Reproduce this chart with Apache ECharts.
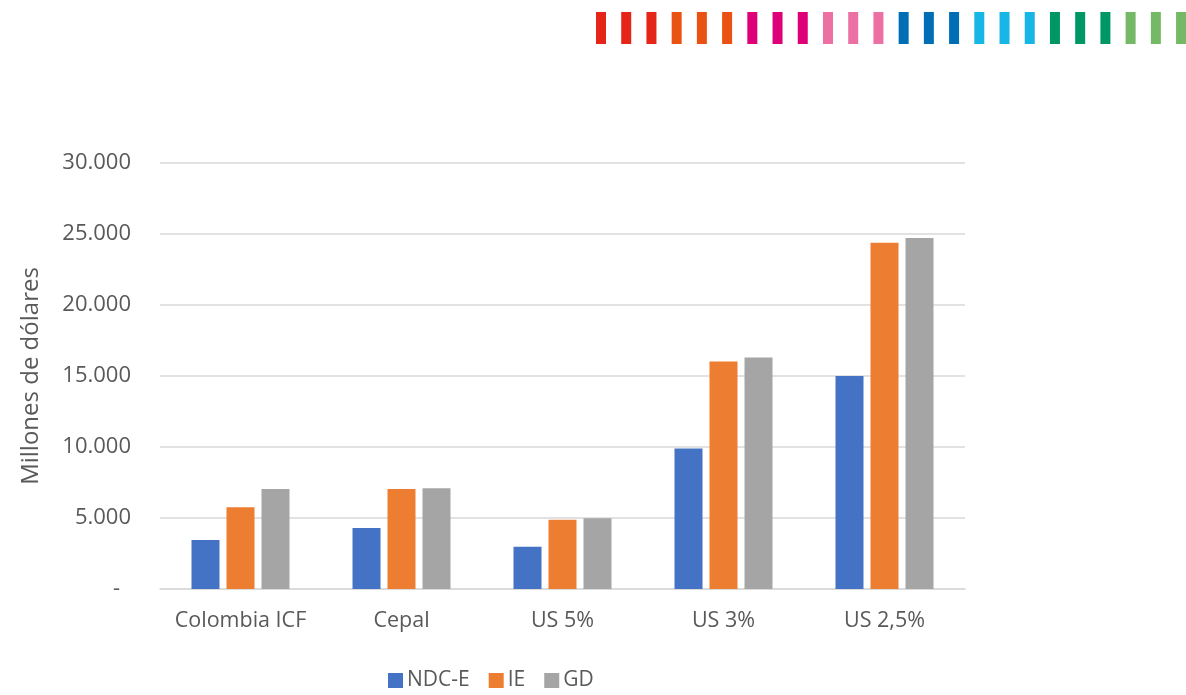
<!DOCTYPE html>
<html>
<head>
<meta charset="utf-8">
<script src="https://cdn.jsdelivr.net/npm/echarts@6/dist/echarts.min.js"></script>
<style>
  html, body { margin: 0; padding: 0; background: #ffffff; }
  #chart { width: 1186px; height: 695px; }
</style>
</head>
<body>
<div id="chart"></div>
<script>
// Scenario categories along the x axis
const categories = ['Colombia ICF', 'Cepal', 'US 5%', 'US 3%', 'US 2,5%'];

// Values in millions of dollars per series
const ndcE = [3450, 4300, 2980, 9900, 15000];
const ie   = [5750, 7050, 4880, 16020, 24380];
const gd   = [7050, 7100, 4980, 16300, 24720];

// Y axis ticks
const yMax = 30000;
const yStep = 5000;

// Decorative stripe band colours (three stripes per colour)
const stripeColors = [
  '#E42518', '#E42518', '#E42518',
  '#EA5213', '#EA5213', '#EA5213',
  '#DD0079', '#DD0079', '#DD0079',
  '#EC70A4', '#EC70A4', '#EC70A4',
  '#006EB5', '#006EB5', '#006EB5',
  '#18B6E6', '#18B6E6', '#18B6E6',
  '#009767', '#009767', '#009767',
  '#75B866', '#75B866', '#75B866'
];

const FONT = '"Open Sans", "Noto Sans", sans-serif';
const TEXT = '#595959';

// Accounting-style thousands: dot separator, zero shown as a dash
function fmtThousands(v) {
  if (v === 0) return '-\u2002';
  return String(v).replace(/\B(?=(\d{3})+(?!\d))/g, '.');
}

const stripes = stripeColors.map((c, i) => ({
  type: 'rect',
  left: 596 + i * 25.22,
  top: 12,
  shape: { width: 10, height: 32 },
  style: { fill: c },
  silent: true
}));

const chart = echarts.init(document.getElementById('chart'), null, { renderer: 'canvas' });

chart.setOption({
  backgroundColor: '#ffffff',
  animation: false,
  textStyle: { fontFamily: FONT },
  graphic: stripes,
  grid: { left: 160, right: 221, top: 163, bottom: 106, containLabel: false },
  legend: {
    left: 383,
    top: 665,
    itemWidth: 15,
    itemHeight: 15,
    itemGap: 19,
    icon: 'rect',
    textStyle: { color: TEXT, fontSize: 21, fontFamily: FONT, padding: [0, 0, 0, -1] },
    data: ['NDC-E', 'IE', 'GD']
  },
  xAxis: {
    type: 'category',
    data: categories,
    axisLine: { show: true, lineStyle: { color: '#d9d9d9', width: 1.5 } },
    axisTick: { show: false },
    axisLabel: { color: TEXT, fontSize: 21.5, margin: 21, interval: 0, fontFamily: FONT }
  },
  yAxis: {
    type: 'value',
    min: 0,
    max: yMax,
    interval: yStep,
    name: 'Millones de dólares',
    nameLocation: 'middle',
    nameGap: 117,
    nameRotate: 90,
    nameTextStyle: { color: TEXT, fontSize: 24, fontFamily: FONT },
    axisLine: { show: false },
    axisTick: { show: false },
    splitLine: { lineStyle: { color: '#d9d9d9', width: 1.5 } },
    axisLabel: { color: TEXT, fontSize: 22, margin: 29, fontFamily: FONT, formatter: fmtThousands }
  },
  series: [
    { name: 'NDC-E', type: 'bar', data: ndcE, itemStyle: { color: '#4472C4' },
      barWidth: 28, barGap: '25%' },
    { name: 'IE', type: 'bar', data: ie, itemStyle: { color: '#ED7D31' },
      barWidth: 28, barGap: '25%' },
    { name: 'GD', type: 'bar', data: gd, itemStyle: { color: '#A5A5A5' },
      barWidth: 28, barGap: '25%' }
  ]
});
</script>
</body>
</html>
